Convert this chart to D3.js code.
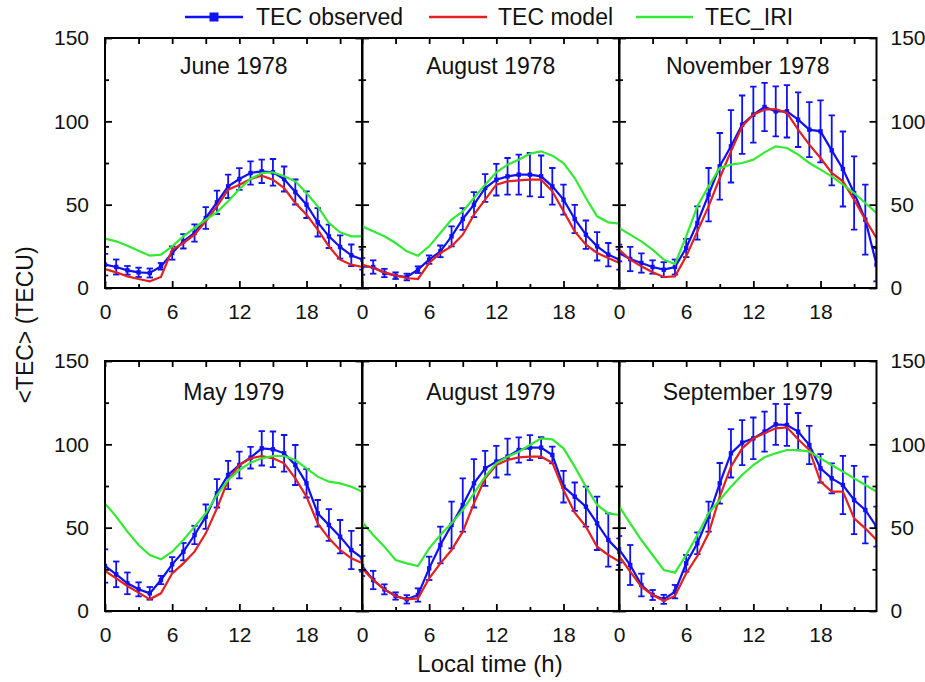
<!DOCTYPE html>
<html>
<head>
<meta charset="utf-8">
<script src="https://cdn.jsdelivr.net/npm/d3@7"></script>
<style>
  html, body { margin: 0; padding: 0; background: #fff; }
  svg { display: block; }
  text { font-family: "Liberation Sans", Arial, sans-serif; fill: #111; }
</style>
</head>
<body>
<svg id="chart" width="925" height="682"></svg>
<script>
// ---------------- DATA ----------------
const hours = [0,1,2,3,4,5,6,7,8,9,10,11,12,13,14,15,16,17,18,19,20,21,22,23];
const panelTitles = ["June 1978", "August 1978", "November 1978", "May 1979", "August 1979", "September 1979"];
const seriesNames = ["TEC observed", "TEC model", "TEC_IRI"];
const yTickLabels = [0, 50, 100, 150];
const xTickLabels = [0, 6, 12, 18];

// June 1978
const obsJun78 = [14,12.6,10.6,9.4,9,13,21,28,33,42,51.4,61,65.4,69,70,69.4,65.4,57.6,50,39.4,31,24.6,19.6,17];
const errJun78 = [6.5,4.5,2.6,2.8,2.7,2,4,4.3,5.2,6.5,7,7,6.5,7,7,8,7.5,7.5,8,8.5,7,7,6.5,6];
const modJun78 = [11.4,9.4,7,5.4,4,6.6,23,27,32,40,49,59,62,65.4,67.4,65,60,51,44,35,25,17,14,12.6];
const iriJun78 = [29.6,28,25.4,22.4,19.4,20,25,31,36,41,45.4,52,59.4,65.4,69,69.4,67,64,57,49,39,33.4,31,31];

// August 1978
const obsAug78 = [13,12.6,9,7.4,6.6,11,17,22,31,41.4,50,60,65,67,68,68,67,61,53,41.4,32,25,20,17];
const errAug78 = [5,4,2.5,2,2,2,2.5,3.5,6,6.5,7.5,8.3,9.5,11,12,13,12.5,11,9,8.5,8.5,8.5,7,6];
const modAug78 = [14,12,9.4,7.6,6,5.4,15,21,25,32,44,53,62,64,64.6,65,65,58,46,34,26,21,18,15];
const iriAug78 = [37,34,31,27,22,19.4,25,33,41,46,54,62,69.4,74,77,80.6,82,79.4,75,66,54,43,39.4,38.6];

// November 1978
const obsNov78 = [21,17.4,15,12.6,11,12.6,24,39,56,73,85,98,104,108.6,106,106,101,95,94,82.6,71.4,57,41,14];
const errNov78 = [5,7.3,5.8,4,4.5,4.5,5.5,10,16,20,21.7,17.5,16.8,14.5,15,15.7,16.4,16.5,18.6,21,22.5,22,21,10];
const modNov78 = [23,17,13,9.4,6.6,7,19,34,49,66,82,97,104,107,107.4,105,95,86,78,69,64,53,41,30];
const iriNov78 = [36,32,28,23,17,14.4,31,49,61,72,74,75,77,81.4,85,84,80,75,71,67,62,57,51,45];

// May 1979
const obsMay79 = [27,22,16.6,13,10.6,18.6,28,35.6,45.6,56.6,70.6,81.6,87.6,92,97.6,97,94.6,87.6,76.6,58.6,51.6,44.6,36.6,31.6];
const errMay79 = [10,7.7,6.5,4.2,3.8,2.5,4.3,5.2,5.5,7.3,8.5,8.5,8,6.5,10.3,10.7,11,12,8.5,8,9.5,10,11.5,8];
const modMay79 = [24,19.6,15,11,7,10.6,22.6,28.6,35.6,46.6,61.6,78.6,87.6,91.6,93,91.6,88.6,79.6,68.6,52.6,43.6,36.6,31.6,28.6];
const iriMay79 = [64.6,56.6,47.6,39.6,33.6,31,35.6,42.6,50.6,58.6,69.6,78.6,84.6,89,91.6,93,93,90.6,85.6,80.6,77.6,76.6,74.6,71.6];

// August 1979
const obsAug79 = [27,18.6,13,9,7,9.6,25.6,39.6,51.6,63.6,76.6,85.6,89.6,92.6,96.6,98,98,93.6,74.6,68.6,62.6,52.6,42.6,35.6];
const errAug79 = [6,5.5,3,2.2,2.5,4,7,11,14,16,14.5,10.5,9.5,10.8,7.6,7.5,6.3,5,9.5,8.5,12,16,16,8];
const modAug79 = [25.6,18.6,13,9,7,7.6,19.6,28.6,36.6,47.6,64.6,79.6,87.6,90.6,92.2,92.6,92.6,89,72.6,59,50.6,38.6,33.6,29.6];
const iriAug79 = [53.6,45.6,38.6,30.6,28.6,27,37.6,45.6,52.6,60.6,70.6,80.6,88.6,92.6,95.6,99.6,103.6,103,97.6,86.6,74.6,63.6,58.6,57.6];

// September 1979
const obsSep79 = [37,27.6,15.6,9.6,7,11.6,28.6,40.6,56.6,76.6,94.6,101,103.6,107.6,112,111.6,107.6,99.6,85.6,79.6,75.6,66.6,60.6,50.6];
const errSep79 = [8,12,6.8,3,2.7,4,5,6.5,9,12.2,14.5,13.5,12.5,12,12.3,12.5,11.2,11.5,8.5,9,17.5,20.5,20,12];
const modSep79 = [33,23.6,14.6,9.6,6.2,9,22.6,33,46.6,68.6,86.6,97.6,103.6,106.6,109.6,110.2,103,96.6,77.6,71.6,71.6,55.6,49.6,42.6];
const iriSep79 = [63,52.6,42.6,33.6,24.6,23,33.6,45.6,58.6,66.6,74.6,81.6,87.6,92.2,94.6,96.6,96.6,95.6,91.6,87.6,83.6,79.6,75.6,71.6];

const observed = [obsJun78, obsAug78, obsNov78, obsMay79, obsAug79, obsSep79];
const errors   = [errJun78, errAug78, errNov78, errMay79, errAug79, errSep79];
const model    = [modJun78, modAug78, modNov78, modMay79, modAug79, modSep79];
const iri      = [iriJun78, iriAug78, iriNov78, iriMay79, iriAug79, iriSep79];

// ---------------- STYLE / LAYOUT ----------------
const BLUE = "#1010f5", RED = "#e3201f", GREEN = "#33ea33";
const colLeft = [105, 362, 619];
const rowTop = [38, 361];
const PW = 257.5, PH = 250;
const FS = 23, TFS = 21;

const svg = d3.select("#chart");
const x = d3.scaleLinear().domain([0, 23]).range([0, PW]);
const y = d3.scaleLinear().domain([0, 150]).range([PH, 0]);

const defs = svg.append("defs");

panelTitles.forEach((title, i) => {
  const r = Math.floor(i / 3), c = i % 3;
  const g = svg.append("g").attr("transform", `translate(${colLeft[c]},${rowTop[r]})`);
  const clipId = "clip" + i;
  defs.append("clipPath").attr("id", clipId).append("rect")
      .attr("x", 0).attr("y", 0).attr("width", PW).attr("height", PH);

  const data = hours.map((h, k) => ({h, obs: observed[i][k], err: errors[i][k], mod: model[i][k], iri: iri[i][k]}));
  const plot = g.append("g").attr("clip-path", `url(#${clipId})`);

  // observed with error bars
  const eb = plot.append("g").attr("stroke", BLUE).attr("stroke-width", 1.8);
  data.forEach(d => {
    const xx = x(d.h), y1 = y(d.obs + d.err), y2 = y(d.obs - d.err);
    eb.append("line").attr("x1", xx).attr("x2", xx).attr("y1", y1).attr("y2", y2);
    eb.append("line").attr("x1", xx - 3.2).attr("x2", xx + 3.2).attr("y1", y1).attr("y2", y1);
    eb.append("line").attr("x1", xx - 3.2).attr("x2", xx + 3.2).attr("y1", y2).attr("y2", y2);
  });
  plot.append("path").datum(data)
      .attr("fill", "none").attr("stroke", BLUE).attr("stroke-width", 2.2)
      .attr("d", d3.line().x(d => x(d.h)).y(d => y(d.obs)));
  plot.selectAll("rect.pt").data(data).enter().append("rect")
      .attr("class", "pt")
      .attr("x", d => x(d.h) - 2.2).attr("y", d => y(d.obs) - 2.2)
      .attr("width", 4.4).attr("height", 4.4).attr("fill", BLUE);

  plot.append("path").datum(data)
      .attr("fill", "none").attr("stroke", RED).attr("stroke-width", 2.2)
      .attr("d", d3.line().x(d => x(d.h)).y(d => y(d.mod)));
  plot.append("path").datum(data)
      .attr("fill", "none").attr("stroke", GREEN).attr("stroke-width", 2.2)
      .attr("d", d3.line().x(d => x(d.h)).y(d => y(d.iri)));

  // axes: inward ticks on all four sides
  const styleAxis = sel => {
    sel.select(".domain").remove();
    sel.selectAll(".tick line").attr("stroke", "#000").attr("stroke-width", 1.8);
    sel.selectAll(".tick text").attr("font-size", TFS)
       .attr("font-family", '"Liberation Sans", Arial, sans-serif').attr("fill", "#111");
  };
  const majX = xTickLabels, minX = [3, 9, 15, 21];
  const majY = yTickLabels, minY = [25, 75, 125];

  g.append("g").attr("transform", `translate(0,${PH})`)
    .call(d3.axisBottom(x).tickValues(majX).tickSizeInner(-7).tickSizeOuter(0).tickPadding(16).tickFormat(d3.format("d")))
    .call(styleAxis);
  g.append("g").attr("transform", `translate(0,${PH})`)
    .call(d3.axisBottom(x).tickValues(minX).tickSizeInner(-4).tickSizeOuter(0).tickFormat(""))
    .call(styleAxis);
  g.append("g")
    .call(d3.axisTop(x).tickValues(majX.concat(minX)).tickSizeInner(-6).tickSizeOuter(0).tickFormat(""))
    .call(styleAxis);

  g.append("g")
    .call(d3.axisLeft(y).tickValues(majY).tickSizeInner(-7).tickSizeOuter(0).tickPadding(16)
      .tickFormat(c === 0 ? d3.format("d") : () => ""))
    .call(styleAxis);
  g.append("g")
    .call(d3.axisLeft(y).tickValues(minY).tickSizeInner(-4).tickSizeOuter(0).tickFormat(""))
    .call(styleAxis);
  g.append("g").attr("transform", `translate(${PW},0)`)
    .call(d3.axisRight(y).tickValues(majY).tickSizeInner(-7).tickSizeOuter(0).tickPadding(14)
      .tickFormat(c === 2 ? d3.format("d") : () => ""))
    .call(styleAxis);
  g.append("g").attr("transform", `translate(${PW},0)`)
    .call(d3.axisRight(y).tickValues(minY).tickSizeInner(-4).tickSizeOuter(0).tickFormat(""))
    .call(styleAxis);

  // frame
  g.append("rect").attr("x", 0).attr("y", 0).attr("width", PW).attr("height", PH)
    .attr("fill", "none").attr("stroke", "#000").attr("stroke-width", 2);

  // title
  g.append("text").attr("x", PW / 2).attr("y", r === 0 ? 36 : 39)
    .attr("text-anchor", "middle").attr("font-size", FS).text(title);
});

// axis titles
svg.append("text").attr("transform", "translate(33,325) rotate(-90)")
  .attr("text-anchor", "middle").attr("font-size", FS).text("<TEC> (TECU)");
svg.append("text").attr("x", 490).attr("y", 672)
  .attr("text-anchor", "middle").attr("font-size", 24).text("Local time (h)");

// legend
const legend = svg.append("g");
const legItems = [
  {name: seriesNames[0], color: BLUE, x0: 185, x1: 243, tx: 256, marker: true},
  {name: seriesNames[1], color: RED, x0: 429, x1: 487, tx: 498, marker: false},
  {name: seriesNames[2], color: GREEN, x0: 636, x1: 693, tx: 705, marker: false}
];
legItems.forEach(it => {
  legend.append("line").attr("x1", it.x0).attr("x2", it.x1).attr("y1", 17).attr("y2", 17)
    .attr("stroke", it.color).attr("stroke-width", 2.4);
  if (it.marker) {
    legend.append("rect").attr("x", (it.x0 + it.x1) / 2 - 4.5).attr("y", 12.5)
      .attr("width", 9).attr("height", 9).attr("fill", it.color);
  }
  legend.append("text").attr("x", it.tx).attr("y", 25).attr("font-size", FS).text(it.name);
});
</script>
</body>
</html>
